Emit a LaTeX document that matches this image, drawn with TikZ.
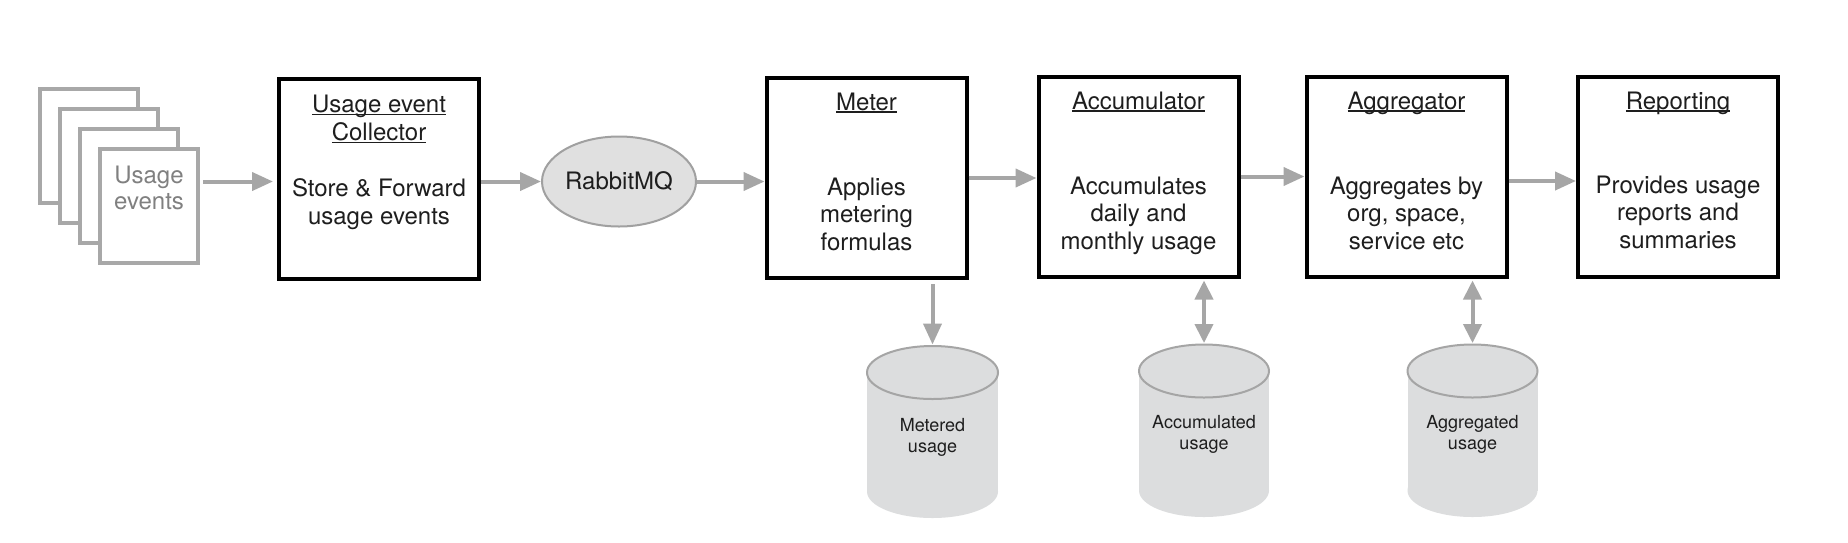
\documentclass[tikz,border=0pt]{standalone}
\usepackage{fontspec}
\setmainfont{TeX Gyre Heros}
\usetikzlibrary{arrows.meta,shapes.geometric}
\definecolor{arrgray}{HTML}{A6A6A6}
\definecolor{pagegray}{HTML}{A8A8A8}
\definecolor{evtxt}{HTML}{808080}
\definecolor{mqfill}{HTML}{E0E0E0}
\definecolor{mqline}{HTML}{A0A0A0}
\definecolor{cylfill}{HTML}{DCDDDE}
\definecolor{cylline}{HTML}{A5A5A5}
\definecolor{txtcol}{HTML}{1E1E1E}
\newlength\ulw
\newcommand\myul[1]{\settowidth{\ulw}{#1}\rlap{\rule[-2.7pt]{\ulw}{1.4pt}}#1}
\begin{document}
\begin{tikzpicture}[x=1pt,y=-1pt,
  box/.style={draw=black, line width=4pt, minimum width=200pt, minimum height=200pt, inner sep=0pt, fill=white},
  page/.style={draw=pagegray, line width=4pt, fill=white, minimum width=98pt, minimum height=114pt, inner sep=0pt},
  arr/.style={draw=arrgray, line width=4pt, -{Triangle[length=21pt,width=18pt]}},
  darr/.style={draw=arrgray, line width=4pt, {Triangle[length=19pt,width=18pt]}-{Triangle[length=19pt,width=18pt]}},
  bigtxt/.style={font=\fontsize{24}{27.5}\selectfont, text=txtcol, inner sep=0pt, align=center},
  ttl/.style={font=\fontsize{24}{28}\selectfont, text=txtcol, inner sep=0pt, align=center},
  evt/.style={font=\fontsize{24}{26}\selectfont, text=evtxt, inner sep=0pt, align=center},
  cyltxt/.style={font=\fontsize{18}{21.5}\selectfont, text=txtcol, inner sep=0pt, align=center},
  mq/.style={ellipse, draw=mqline, fill=mqfill, line width=2pt, minimum width=154pt, minimum height=90pt, inner sep=0pt, font=\fontsize{24}{28}\selectfont, text=txtcol},
  cylbody/.style={fill=cylfill},
  cyltop/.style={fill=cylfill, draw=cylline, line width=2pt}
]
\useasboundingbox[fill=white] (0,0) rectangle (1848,542);

% stack of usage event pages
\node[page] (page1) at (89,146) {};
\node[page] (page2) at (109,166) {};
\node[page] (page3) at (129,186) {};
\node[page] (page4) at (149,206) {};
\node[evt, anchor=north] (evtext) at (149,164.8) {\strut Usage\\events\strut};

% main boxes
\node[box] (coll) at (379,179) {};
\node[mq] (rabbit) at (619,181.5) {RabbitMQ};
\node[box] (meter) at (866.5,178) {};
\node[box] (acc) at (1138.5,176.5) {};
\node[box] (agg) at (1406.5,176.5) {};
\node[box] (rep) at (1678,176.5) {};

% titles
\node[ttl, anchor=north] (collt) at (379,92.4) {\strut\myul{Usage event}\\\myul{Collector}\strut};
\node[ttl, anchor=base] (metert) at (866.5,110) {\myul{Meter}};
\node[ttl, anchor=base] (acct) at (1138.5,109) {\myul{Accumulator}};
\node[ttl, anchor=base] (aggt) at (1406.5,109) {\myul{Aggregator}};
\node[ttl, anchor=base] (rept) at (1678,109) {\myul{Reporting}};

% bodies
\node[bigtxt, anchor=north] (collb) at (379,177.5) {\strut Store \& Forward\\usage events\strut};
\node[bigtxt, anchor=north] (meterb) at (866.5,175.75) {\strut Applies\\metering\\formulas\strut};
\node[bigtxt, anchor=north] (accb) at (1138.5,174.75) {\strut Accumulates\\daily and\\monthly usage\strut};
\node[bigtxt, anchor=north] (aggb) at (1406.5,174.75) {\strut Aggregates by\\org, space,\\service etc\strut};
\node[bigtxt, anchor=north] (repb) at (1678,173.75) {\strut Provides usage\\reports and\\summaries\strut};

% cylinders
\fill[cylbody] (932.5,491.5) ellipse[x radius=65.5pt, y radius=26.5pt];
\fill[cylbody] (867,372.5) rectangle (998,491.5);
\filldraw[cyltop] (932.5,372.5) ellipse[x radius=65.5pt, y radius=26.5pt];
\coordinate (db1top) at (932.5,344.5);
\node[cyltxt, anchor=north] (db1) at (932.5,416) {\strut Metered\\usage\strut};

\fill[cylbody] (1204,490.5) ellipse[x radius=65pt, y radius=26.5pt];
\fill[cylbody] (1139,371) rectangle (1269,490.5);
\filldraw[cyltop] (1204,371) ellipse[x radius=65pt, y radius=26.5pt];
\coordinate (db2top) at (1204,343);
\node[cyltxt, anchor=north] (db2) at (1204,413) {\strut Accumulated\\usage\strut};

\fill[cylbody] (1472.5,490.5) ellipse[x radius=65pt, y radius=26.5pt];
\fill[cylbody] (1407.5,371) rectangle (1537.5,490.5);
\filldraw[cyltop] (1472.5,371) ellipse[x radius=65pt, y radius=26.5pt];
\coordinate (db3top) at (1472.5,343);
\node[cyltxt, anchor=north] (db3) at (1472.5,413) {\strut Aggregated\\usage\strut};

% connectors
\draw[arr, shorten <=3pt, shorten >=4pt] (page4.east |- rabbit.center) -- (coll.west |- rabbit.center);
\draw[arr] (coll.east |- rabbit.center) -- (rabbit.west);
\draw[arr] (rabbit.east) -- (meter.west |- rabbit.center);
\draw[arr] (meter.east) -- (acc.west |- meter.east);
\draw[arr] (acc.east) -- (agg.west |- acc.east);
\draw[arr] ([yshift=-4.5pt]agg.east) -- ([yshift=-4.5pt]rep.west);
\draw[arr, shorten <=4pt] (meter.south -| db1top) -- (db1top);
\draw[darr, shorten <=2pt] (acc.south -| db2top) -- (db2top);
\draw[darr, shorten <=2pt] (agg.south -| db3top) -- (db3top);
\end{tikzpicture}
\end{document}
